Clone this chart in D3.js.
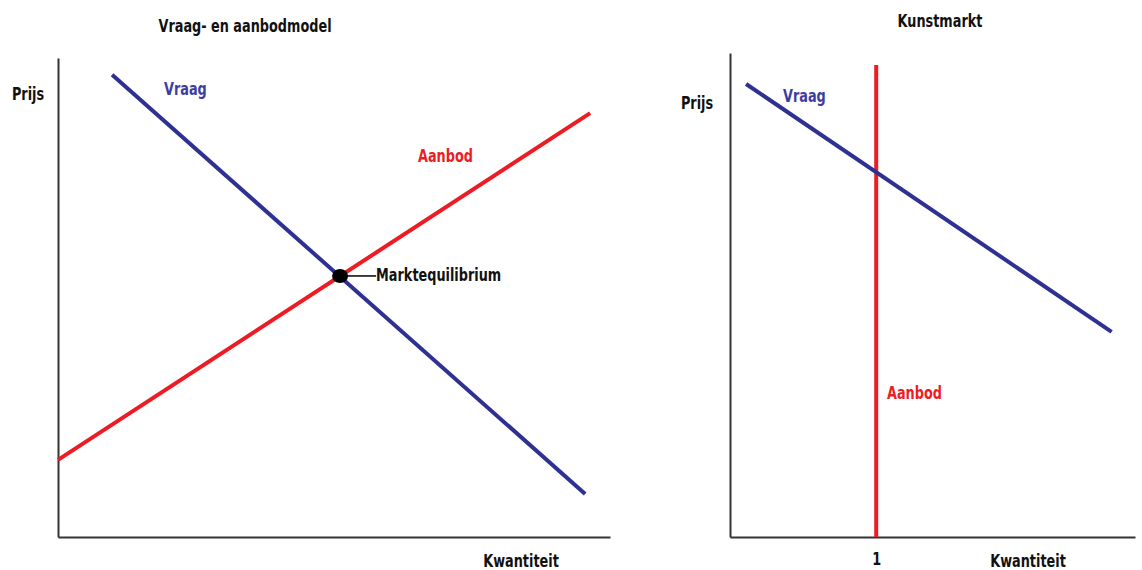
<!DOCTYPE html>
<html>
<head>
<meta charset="utf-8">
<script src="https://cdn.jsdelivr.net/npm/d3@7"></script>
<style>
  body { margin: 0; background: #fff; }
  text { font-family: "DejaVu Sans Condensed", "Liberation Sans Narrow", sans-serif; font-weight: bold; }
</style>
</head>
<body>
<div id="vis"></div>
<script>
// left chart: generic supply and demand (abstract units 0..100)
const leftVraag = [[9.8, 96.5], [95.5, 9.0]];
const leftAanbod = [[0, 16.1], [96.4, 88.5]];
const leftEquilibrium = [51.1, 54.5];
// right chart: art market, quantity fixed at 1
const rightVraag = [[0.11, 93.6], [2.61, 42.4]];
const rightAanbod = [[1, 0], [1, 97.5]];
const rightTicks = [1];

const titles = ["Vraag- en aanbodmodel", "Kunstmarkt"];
const blue = "#2e3192", red = "#ed1c24";
const squeeze = 0.84; // font is wider than the condensed face in the original

const [width, height] = [1142, 570];
const svg = d3.select('#vis').append('svg')
  .attr('width', width).attr('height', height);

const xL = d3.scaleLinear().domain([0, 100]).range([58, 610]);
const yL = d3.scaleLinear().domain([0, 100]).range([537, 58]);
const xR = d3.scaleLinear().domain([0, 2.77]).range([730, 1135]);
const yR = d3.scaleLinear().domain([0, 100]).range([537, 53]);

function drawAxes(x, y, ticks) {
  const gx = svg.append('g')
    .attr('transform', `translate(0,${y.range()[0]})`)
    .call(d3.axisBottom(x).tickValues(ticks).tickFormat(d3.format('d'))
      .tickSize(0).tickSizeOuter(0).tickPadding(16));
  gx.select('.domain').attr('stroke', '#333').attr('stroke-width', 2);
  gx.selectAll('.tick text').attr('font-size', 17).attr('fill', '#111')
    .attr('font-family', null)
    .attr('transform', `scale(${squeeze},1)`)
    .attr('x', function() { return 0; });
  const gy = svg.append('g')
    .attr('transform', `translate(${x.range()[0]},0)`)
    .call(d3.axisLeft(y).tickValues([]).tickSizeOuter(0));
  gy.select('.domain').attr('stroke', '#333').attr('stroke-width', 2);
}
drawAxes(xL, yL, []);
drawAxes(xR, yR, rightTicks);

const line = (x, y) => d3.line().x(d => x(d[0])).y(d => y(d[1]));

function addLine(data, x, y, color) {
  svg.append('path')
    .datum(data)
    .attr('d', line(x, y))
    .attr('fill', 'none')
    .attr('stroke', color)
    .attr('stroke-width', 4);
}
addLine(leftVraag, xL, yL, blue);
addLine(leftAanbod, xL, yL, red);
addLine(rightAanbod, xR, yR, red);
addLine(rightVraag, xR, yR, blue);

// equilibrium marker
const ex = xL(leftEquilibrium[0]), ey = yL(leftEquilibrium[1]);
svg.append('ellipse').attr('cx', ex).attr('cy', ey).attr('rx', 8).attr('ry', 7).attr('fill', '#000');
svg.append('line').attr('x1', ex + 7).attr('x2', ex + 36).attr('y1', ey).attr('y2', ey)
  .attr('stroke', '#000').attr('stroke-width', 1.5);

function label(txt, x, y, opts = {}) {
  svg.append('text')
    .attr('transform', `translate(${x},${y}) scale(${squeeze},1)`)
    .attr('text-anchor', opts.anchor || 'start')
    .attr('dominant-baseline', 'middle')
    .attr('font-size', opts.size || 17)
    .attr('fill', opts.color || '#111')
    .text(txt);
}
label(titles[0], xL(0) + 187, 27, { anchor: 'middle' });
label(titles[1], xR(0) + 210, 22, { anchor: 'middle' });
label("Prijs", 28, 95, { anchor: 'middle' });
label("Prijs", 697, 104, { anchor: 'middle' });
label("Kwantiteit", 521, 562, { anchor: 'middle' });
label("Kwantiteit", 1028, 562, { anchor: 'middle' });
label("Vraag", 164, 90, { color: '#3d3da0' });
label("Aanbod", 418, 157, { color: red });
label("Marktequilibrium", ex + 36, ey, {});
label("Vraag", 783, 97, { color: '#3d3da0' });
label("Aanbod", 887, 394, { color: red });
</script>
</body>
</html>
